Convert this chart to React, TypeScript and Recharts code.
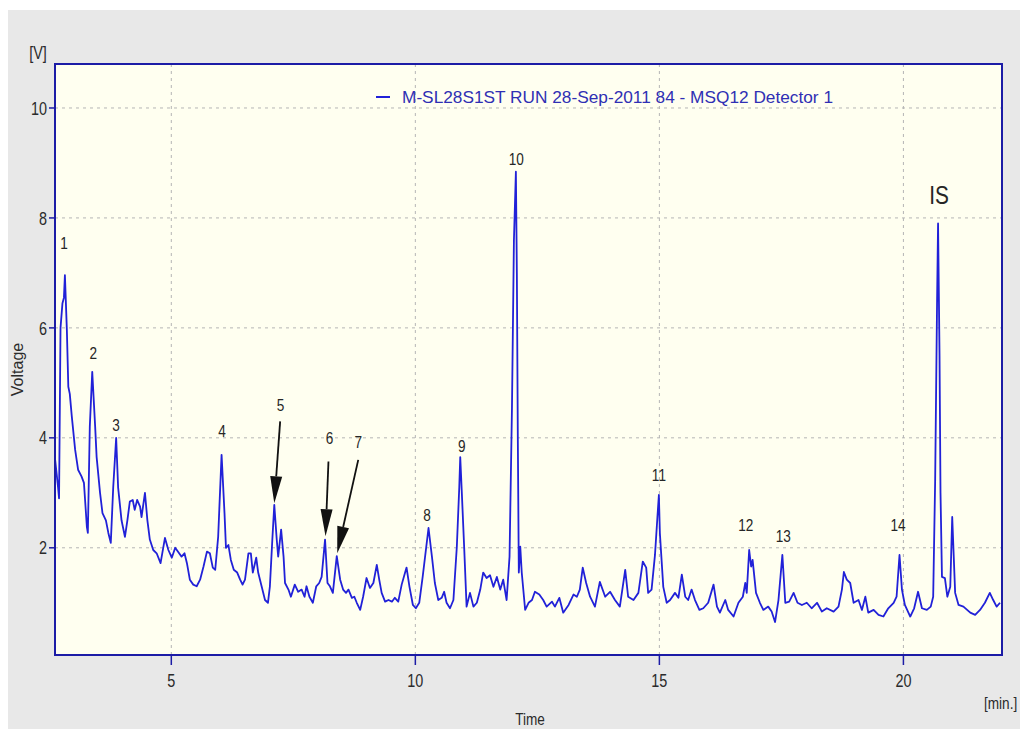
import React from 'react';
import {
  LineChart,
  Line,
  XAxis,
  YAxis,
  CartesianGrid,
  ReferenceDot,
  ReferenceLine,
  ReferenceArea,
  Label,
} from 'recharts';

// Chromatogram trace: retention time [min] and detector voltage [V]
const retentionTime = [
  2.62, 2.68, 2.70, 2.73, 2.77, 2.80, 2.82, 2.86, 2.89, 2.92, 2.96, 3.03, 3.09, 3.16, 3.21, 3.27, 3.29, 3.33, 3.38, 3.44,
  3.47, 3.54, 3.59, 3.66, 3.71, 3.76, 3.81, 3.87, 3.91, 3.98, 4.05, 4.10, 4.15, 4.21, 4.25, 4.30, 4.36, 4.39, 4.46, 4.51,
  4.56, 4.63, 4.70, 4.78, 4.87, 4.94, 5.01, 5.08, 5.16, 5.21, 5.27, 5.32, 5.38, 5.45, 5.52, 5.59, 5.66, 5.73, 5.79, 5.85,
  5.90, 5.96, 6.03, 6.09, 6.12, 6.17, 6.22, 6.28, 6.35, 6.41, 6.46, 6.51, 6.58, 6.63, 6.67, 6.74, 6.78, 6.85, 6.92, 6.98,
  7.02, 7.07, 7.11, 7.16, 7.19, 7.25, 7.30, 7.33, 7.40, 7.45, 7.53, 7.60, 7.67, 7.73, 7.77, 7.83, 7.90, 7.97, 8.03, 8.08,
  8.15, 8.20, 8.25, 8.31, 8.39, 8.46, 8.52, 8.58, 8.63, 8.70, 8.75, 8.80, 8.87, 8.93, 9.00, 9.07, 9.14, 9.21, 9.26, 9.31,
  9.38, 9.45, 9.52, 9.58, 9.65, 9.72, 9.79, 9.82, 9.88, 9.95, 10.01, 10.08, 10.15, 10.27, 10.34, 10.40, 10.47, 10.54, 10.59, 10.64,
  10.71, 10.78, 10.85, 10.90, 10.92, 10.95, 11.00, 11.05, 11.12, 11.19, 11.26, 11.33, 11.39, 11.46, 11.53, 11.60, 11.67, 11.74, 11.80, 11.87,
  11.93, 11.98, 12.02, 12.06, 12.08, 12.10, 12.12, 12.15, 12.18, 12.25, 12.32, 12.39, 12.45, 12.54, 12.62, 12.69, 12.80, 12.86, 12.95, 13.03,
  13.14, 13.24, 13.31, 13.37, 13.43, 13.50, 13.58, 13.68, 13.78, 13.89, 13.99, 14.09, 14.19, 14.30, 14.36, 14.47, 14.57, 14.66, 14.73, 14.77,
  14.84, 14.91, 14.96, 14.99, 15.01, 15.08, 15.15, 15.22, 15.32, 15.39, 15.46, 15.53, 15.59, 15.66, 15.73, 15.82, 15.90, 16.00, 16.11, 16.18,
  16.24, 16.35, 16.41, 16.52, 16.62, 16.71, 16.76, 16.79, 16.84, 16.88, 16.91, 16.98, 17.06, 17.13, 17.23, 17.30, 17.37, 17.44, 17.52, 17.58,
  17.66, 17.75, 17.83, 17.92, 18.02, 18.12, 18.23, 18.33, 18.43, 18.57, 18.67, 18.74, 18.78, 18.84, 18.91, 18.98, 19.08, 19.15, 19.22, 19.28,
  19.39, 19.49, 19.59, 19.69, 19.80, 19.86, 19.92, 19.97, 20.03, 20.14, 20.22, 20.30, 20.38, 20.48, 20.56, 20.61, 20.65, 20.69, 20.71, 20.74,
  20.76, 20.79, 20.85, 20.90, 20.96, 21.00, 21.06, 21.13, 21.23, 21.37, 21.47, 21.57, 21.67, 21.77, 21.84, 21.91, 21.98,
];

const voltage = [
  3.60, 3.10, 2.90, 6.00, 6.45, 6.55, 6.96, 5.96, 4.93, 4.80, 4.40, 3.78, 3.42, 3.30, 3.18, 2.38, 2.27, 4.20, 5.20, 4.20,
  3.65, 3.00, 2.63, 2.50, 2.27, 2.09, 3.10, 4.00, 3.10, 2.50, 2.20, 2.50, 2.84, 2.87, 2.69, 2.87, 2.75, 2.56, 3.00, 2.50,
  2.15, 1.96, 1.90, 1.72, 2.18, 1.96, 1.82, 2.00, 1.90, 1.84, 1.90, 1.72, 1.42, 1.33, 1.30, 1.42, 1.66, 1.93, 1.90, 1.64,
  1.60, 2.20, 3.69, 2.63, 2.00, 2.05, 1.78, 1.60, 1.55, 1.42, 1.33, 1.42, 1.90, 1.90, 1.55, 1.82, 1.55, 1.30, 1.05, 1.00,
  1.30, 2.15, 2.78, 2.15, 1.84, 2.33, 1.84, 1.36, 1.24, 1.11, 1.33, 1.20, 1.24, 1.11, 1.30, 1.11, 1.00, 1.30, 1.36, 1.47,
  2.15, 1.36, 1.30, 1.18, 1.85, 1.42, 1.24, 1.18, 1.24, 1.09, 1.11, 1.00, 0.87, 1.11, 1.45, 1.27, 1.36, 1.69, 1.42, 1.18,
  1.02, 1.05, 1.02, 1.09, 1.02, 1.33, 1.55, 1.64, 1.29, 0.96, 0.90, 1.00, 1.47, 2.36, 1.84, 1.36, 1.05, 1.09, 1.20, 1.00,
  0.90, 1.05, 2.02, 3.10, 3.65, 3.05, 2.02, 0.93, 1.18, 0.93, 1.00, 1.24, 1.55, 1.45, 1.50, 1.29, 1.47, 1.24, 1.42, 1.05,
  1.84, 4.56, 7.60, 8.84, 7.00, 3.96, 1.55, 2.02, 1.55, 0.87, 1.00, 1.05, 1.20, 1.15, 1.05, 0.93, 1.02, 0.93, 1.09, 0.82,
  0.96, 1.15, 1.11, 1.24, 1.64, 1.36, 1.11, 0.93, 1.38, 1.11, 1.20, 1.05, 0.93, 1.60, 1.11, 1.05, 1.18, 1.75, 1.64, 1.18,
  1.24, 1.87, 2.56, 2.96, 2.27, 1.29, 1.00, 1.05, 1.18, 1.09, 1.51, 1.11, 1.05, 1.24, 1.05, 0.87, 0.90, 1.00, 1.33, 0.93,
  0.82, 1.05, 0.87, 0.75, 1.00, 1.11, 1.36, 1.18, 1.96, 1.66, 1.78, 1.18, 1.00, 0.87, 0.93, 0.84, 0.65, 1.05, 1.87, 1.00,
  1.02, 1.18, 1.00, 0.96, 1.00, 0.90, 1.00, 0.84, 0.90, 0.84, 0.93, 1.24, 1.56, 1.42, 1.36, 1.00, 1.05, 0.87, 1.11, 0.82,
  0.87, 0.78, 0.75, 0.90, 1.00, 1.11, 1.87, 1.24, 0.96, 0.75, 0.90, 1.20, 0.90, 0.87, 0.93, 1.11, 3.20, 6.50, 7.90, 5.50,
  3.00, 1.47, 1.45, 1.11, 1.29, 2.56, 1.18, 0.96, 0.93, 0.82, 0.78, 0.87, 1.00, 1.18, 1.05, 0.93, 1.00,
];

// Peak annotations (label anchor in time / voltage units)
const peakNames = ['1', '2', '3', '4', '5', '6', '7', '8', '9', '10', '11', '12', '13', '14', 'IS'];
const peakLabelTime = [2.80, 3.40, 3.87, 6.04, 7.24, 8.24, 8.83, 10.24, 10.95, 12.07, 14.99, 16.77, 17.54, 19.89, 20.73];
const peakLabelVoltage = [7.55, 5.55, 4.24, 4.12, 4.60, 4.00, 3.93, 2.60, 3.85, 9.07, 3.33, 2.42, 2.22, 2.42, 8.42];

// Arrows pointing at the small peaks 5, 6 and 7
const arrowFromTime = [7.23, 8.22, 8.83];
const arrowFromVoltage = [4.30, 3.57, 3.60];
const arrowToTime = [7.11, 8.16, 8.40];
const arrowToVoltage = [2.81, 2.21, 1.90];

const timeTicks = [5, 10, 15, 20];
const voltageTicks = [2, 4, 6, 8, 10];
const timeDomain = [2.617, 22.02];
const voltageDomain = [0.05, 10.8];

const seriesName = 'M-SL28S1ST RUN 28-Sep-2011 84 - MSQ12 Detector 1';

const data = retentionTime.map((t, i) => ({ t, v: voltage[i] }));

const FONT = '"Liberation Sans", Arial, sans-serif';
const AXIS_BLUE = '#1c1ca6';
const TRACE_BLUE = '#2121d8';
const SQUEEZE = 0.8;

type TxtProps = {
  x: number;
  y: number;
  size: number;
  anchor?: 'start' | 'middle' | 'end';
  fill?: string;
  dy?: string;
  baseline?: string;
  children: React.ReactNode;
};

// Text drawn with a slightly narrowed glyph width
const NarrowText = ({ x, y, size, anchor = 'middle', fill = '#2b2b2b', dy, baseline, children }: TxtProps) => (
  <g transform={`translate(${x} ${y}) scale(${SQUEEZE} 1)`}>
    <text
      x={0}
      y={0}
      dy={dy}
      textAnchor={anchor}
      dominantBaseline={baseline}
      fontFamily={FONT}
      fontSize={size}
      fill={fill}
    >
      {children}
    </text>
  </g>
);

const YTick = (props: any) => (
  <NarrowText x={props.x} y={props.y} size={18} anchor="end" baseline="central">
    {props.payload.value}
  </NarrowText>
);

const XTick = (props: any) => (
  <NarrowText x={props.x} y={props.y} size={18} anchor="middle" dy="0.71em">
    {props.payload.value}
  </NarrowText>
);

const makePeakLabel = (name: string) => (p: any) => (
  <NarrowText x={p.cx} y={p.cy} size={name === 'IS' ? 26 : 17} anchor="middle" baseline="central" fill="#262626">
    {name}
  </NarrowText>
);

// Arrow with a filled triangular head at the end point
const ArrowShape = (p: any) => {
  const { x1, y1, x2, y2 } = p;
  const dx = x2 - x1;
  const dy = y2 - y1;
  const len = Math.sqrt(dx * dx + dy * dy) || 1;
  const ux = dx / len;
  const uy = dy / len;
  const headLen = 27;
  const halfW = 6;
  const bx = x2 - ux * headLen;
  const by = y2 - uy * headLen;
  const pts = `${x2},${y2} ${bx - uy * halfW},${by + ux * halfW} ${bx + uy * halfW},${by - ux * halfW}`;
  return (
    <g>
      <line x1={x1} y1={y1} x2={bx} y2={by} stroke="#111" strokeWidth={1.8} />
      <polygon points={pts} fill="#111" />
    </g>
  );
};

const YAxisTitle = (p: any) => {
  const vb = p.viewBox || { x: 7, y: 56, width: 40, height: 591 };
  const cx = vb.x + 2;
  const cy = vb.y + vb.height / 2 + 10;
  return (
    <g>
      <text
        x={cx}
        y={cy}
        transform={`rotate(-90 ${cx} ${cy})`}
        textAnchor="middle"
        dominantBaseline="central"
        fontFamily={FONT}
        fontSize={16}
        fill="#2b2b2b"
      >
        Voltage
      </text>
      <NarrowText x={vb.x + 23} y={vb.y - 12} size={18} anchor="middle" baseline="central">
        [V]
      </NarrowText>
    </g>
  );
};

const XAxisTitle = (p: any) => {
  const vb = p.viewBox || { x: 47, y: 647, width: 947, height: 30 };
  return (
    <g>
      <NarrowText x={vb.x + 475} y={vb.y + 64} size={17} anchor="middle" baseline="central">
        Time
      </NarrowText>
      <NarrowText x={vb.x + 929} y={vb.y + 48} size={17} anchor="start" baseline="central">
        [min.]
      </NarrowText>
    </g>
  );
};

export default function App() {
  return (
    <div
      style={{
        position: 'absolute',
        left: 8,
        top: 8,
        width: 1012,
        height: 721,
        overflow: 'hidden',
        background: 'linear-gradient(#ffffff 0px, #ffffff 2px, #e8e8e8 2px)',
      }}
    >
      <LineChart
        width={1012}
        height={721}
        data={data}
        margin={{ top: 56, right: 18, bottom: 44, left: 7 }}
      >
        <CartesianGrid
          fill="#fffff0"
          stroke="#b5b5b5"
          strokeDasharray="3 4"
          strokeWidth={1}
        />
        <XAxis
          dataKey="t"
          type="number"
          domain={timeDomain}
          ticks={timeTicks}
          allowDataOverflow
          height={30}
          tickSize={10}
          tickMargin={9}
          axisLine={{ stroke: AXIS_BLUE, strokeWidth: 2 }}
          tickLine={{ stroke: AXIS_BLUE, strokeWidth: 1.5 }}
          tick={XTick}
          interval={0}
        >
          <Label content={XAxisTitle} />
        </XAxis>
        <YAxis
          type="number"
          domain={voltageDomain}
          ticks={voltageTicks}
          allowDataOverflow
          width={40}
          tickSize={6}
          tickMargin={2}
          axisLine={{ stroke: AXIS_BLUE, strokeWidth: 2 }}
          tickLine={{ stroke: AXIS_BLUE, strokeWidth: 1.5 }}
          tick={YTick}
          interval={0}
        >
          <Label content={YAxisTitle} />
        </YAxis>
        <ReferenceArea
          x1={timeDomain[0]}
          x2={timeDomain[1]}
          y1={voltageDomain[0]}
          y2={voltageDomain[1]}
          fill="none"
          stroke={AXIS_BLUE}
          strokeWidth={2}
          ifOverflow="visible"
        />
        <Line
          type="linear"
          dataKey="v"
          name={seriesName}
          stroke={TRACE_BLUE}
          strokeWidth={1.8}
          strokeLinejoin="round"
          dot={false}
          isAnimationActive={false}
        />
        {arrowFromTime.map((t, i) => (
          <ReferenceLine
            key={`arrow-${i}`}
            segment={[
              { x: t, y: arrowFromVoltage[i] },
              { x: arrowToTime[i], y: arrowToVoltage[i] },
            ]}
            shape={ArrowShape}
            ifOverflow="visible"
          />
        ))}
        {peakNames.map((name, i) => (
          <ReferenceDot
            key={`peak-${name}`}
            x={peakLabelTime[i]}
            y={peakLabelVoltage[i]}
            r={0}
            shape={makePeakLabel(name)}
            ifOverflow="visible"
          />
        ))}
      </LineChart>
      {/* series legend inside the plot */}
      <svg
        width={540}
        height={30}
        style={{ position: 'absolute', left: 360, top: 74 }}
      >
        <line x1={8} y1={15} x2={22} y2={15} stroke={TRACE_BLUE} strokeWidth={2} />
        <text
          x={34}
          y={15}
          dominantBaseline="central"
          fontFamily={FONT}
          fontSize={17}
          fill="#2f2fb4"
          textLength={431}
          lengthAdjust="spacingAndGlyphs"
        >
          {seriesName}
        </text>
      </svg>
    </div>
  );
}
